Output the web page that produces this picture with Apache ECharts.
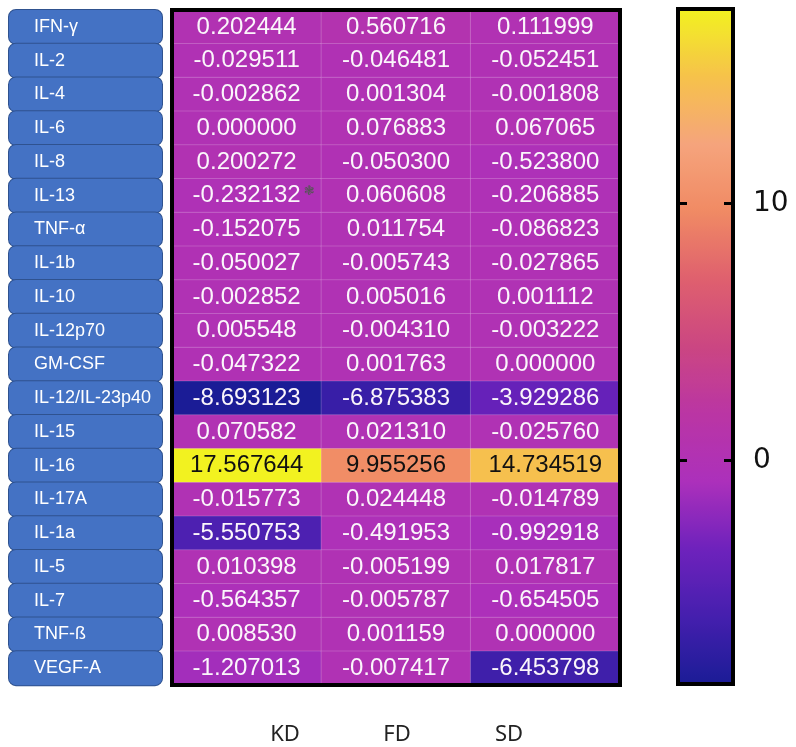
<!DOCTYPE html>
<html>
<head>
<meta charset="utf-8">
<script src="https://cdn.jsdelivr.net/npm/echarts@6/dist/echarts.min.js"></script>
<style>
html, body { margin: 0; padding: 0; background: #fff; }
#main { width: 796px; height: 747px; }
</style>
</head>
<body>
<div id="main"></div>
<script>
// groups (columns) and cytokines (rows, top to bottom)
var groups = ['KD', 'FD', 'SD'];
var cytokines = ['IFN-γ', 'IL-2', 'IL-4', 'IL-6', 'IL-8', 'IL-13', 'TNF-α', 'IL-1b', 'IL-10', 'IL-12p70',
    'GM-CSF', 'IL-12/IL-23p40', 'IL-15', 'IL-16', 'IL-17A', 'IL-1a', 'IL-5', 'IL-7', 'TNF-ß', 'VEGF-A'];

var kd = [0.202444, -0.029511, -0.002862, 0.000000, 0.200272, -0.232132, -0.152075, -0.050027, -0.002852, 0.005548,
    -0.047322, -8.693123, 0.070582, 17.567644, -0.015773, -5.550753, 0.010398, -0.564357, 0.008530, -1.207013];
var fd = [0.560716, -0.046481, 0.001304, 0.076883, -0.050300, 0.060608, 0.011754, -0.005743, 0.005016, -0.004310,
    0.001763, -6.875383, 0.021310, 9.955256, 0.024448, -0.491953, -0.005199, -0.005787, 0.001159, -0.007417];
var sd = [0.111999, -0.052451, -0.001808, 0.067065, -0.523800, -0.206885, -0.086823, -0.027865, 0.001112, -0.003222,
    0.000000, -3.929286, -0.025760, 14.734519, -0.014789, -0.992918, 0.017817, -0.654505, 0.000000, -6.453798];

// cells carrying the significance mark
var marked = [['KD', 'IL-13']];
// colour bar ticks
var barTicks = [0, 10];

var myChart = echarts.init(document.getElementById('main'));

var columns = [kd, fd, sd];
var data = [];
columns.forEach(function (col, i) {
    col.forEach(function (v, j) {
        data.push([i, j, v]);
    });
});
var all = kd.concat(fd, sd);
var vmin = Math.min.apply(null, all);
var vmax = Math.max.apply(null, all);

function isMarked(i, j) {
    return marked.some(function (m) {
        return m[0] === groups[i] && m[1] === cytokines[j];
    });
}

// plasma-like palette, as it looks in the picture
var palette = ['#1b1c96', '#451fae', '#6e22bc', '#ac30bb', '#ba35a4', '#cb4682',
    '#df606e', '#f08a64', '#f5a47c', '#f6c24a', '#f2f220'];

option = {
    backgroundColor: '#fff',
    animation: false,
    grid: [
        // heatmap
        {left: 172, top: 10, width: 448, height: 675, show: true, borderColor: '#000', borderWidth: 4,
            backgroundColor: 'transparent', z: 5},
        // colour bar frame
        {left: 678, top: 9, width: 55, height: 675, show: true, borderColor: '#000', borderWidth: 4,
            backgroundColor: 'transparent', z: 5},
        // column names
        {left: 229, top: 690, width: 336, height: 20}
    ],
    xAxis: [
        {
            type: 'category', gridIndex: 0, data: groups,
            axisLine: {show: false}, axisTick: {show: false}, axisLabel: {show: false}
        },
        {type: 'value', gridIndex: 1, show: false},
        {
            type: 'category', gridIndex: 2, data: groups, position: 'bottom',
            axisLine: {show: false}, axisTick: {show: false},
            axisLabel: {margin: 14, fontSize: 22, color: '#222', fontFamily: 'Noto Sans'}
        }
    ],
    yAxis: [
        {
            type: 'category', gridIndex: 0, data: cytokines, inverse: true,
            axisLine: {show: false}, axisTick: {show: false},
            axisLabel: {
                interval: 0,
                margin: 10,
                formatter: function (v) {
                    return '{b|' + v + '}';
                },
                backgroundColor: '#4472c4',
                borderColor: '#2f528f',
                borderWidth: 1,
                borderRadius: 7,
                padding: [0, 2, 0, 25],
                rich: {
                    b: {
                        width: 126, height: 32, lineHeight: 34, align: 'left',
                        color: '#fff', fontSize: 18, fontFamily: 'Liberation Sans'
                    }
                }
            }
        },
        {
            type: 'value', gridIndex: 1, min: vmin, max: vmax, position: 'left', z: 6,
            axisLine: {show: false}, splitLine: {show: false}, axisLabel: {show: false},
            axisTick: {inside: true, length: 9, customValues: barTicks, lineStyle: {color: '#000', width: 3}}
        },
        {
            type: 'value', gridIndex: 1, min: vmin, max: vmax, position: 'right', z: 6,
            axisLine: {show: false}, splitLine: {show: false},
            axisTick: {inside: true, length: 9, customValues: barTicks, lineStyle: {color: '#000', width: 3}},
            axisLabel: {customValues: barTicks, margin: 20, fontSize: 28, color: '#111', fontFamily: 'DejaVu Sans'}
        },
        {type: 'value', gridIndex: 2, show: false}
    ],
    visualMap: {
        type: 'continuous',
        seriesIndex: 0,
        min: vmin,
        max: vmax,
        calculable: false,
        orient: 'vertical',
        left: 678,
        top: 9,
        padding: 0,
        itemWidth: 55,
        itemHeight: 675,
        inRange: {color: palette}
    },
    series: [
        {
            type: 'heatmap',
            xAxisIndex: 0,
            yAxisIndex: 0,
            data: data,
            itemStyle: {borderColor: 'rgba(255,255,255,0.18)', borderWidth: 1},
            label: {
                show: true,
                formatter: function (p) {
                    var v = p.value[2];
                    var txt = '{' + (v > 8 ? 'd' : 'n') + '|' + v.toFixed(6) + '}';
                    if (isMarked(p.value[0], p.value[1])) {
                        txt = '{sp|❃}' + txt + '{s|❃}';
                    }
                    return txt;
                },
                rich: {
                    n: {color: '#fbf6fb', fontSize: 24, fontFamily: 'Liberation Sans'},
                    d: {color: '#111', fontSize: 24, fontFamily: 'Liberation Sans'},
                    s: {color: '#555', fontSize: 13, fontFamily: 'DejaVu Sans', padding: [0, 0, 8, 3]},
                    sp: {color: 'transparent', fontSize: 13, fontFamily: 'DejaVu Sans', padding: [0, 3, 8, 0]}
                }
            }
        }
    ]
};
myChart.setOption(option);
</script>
</body>
</html>
